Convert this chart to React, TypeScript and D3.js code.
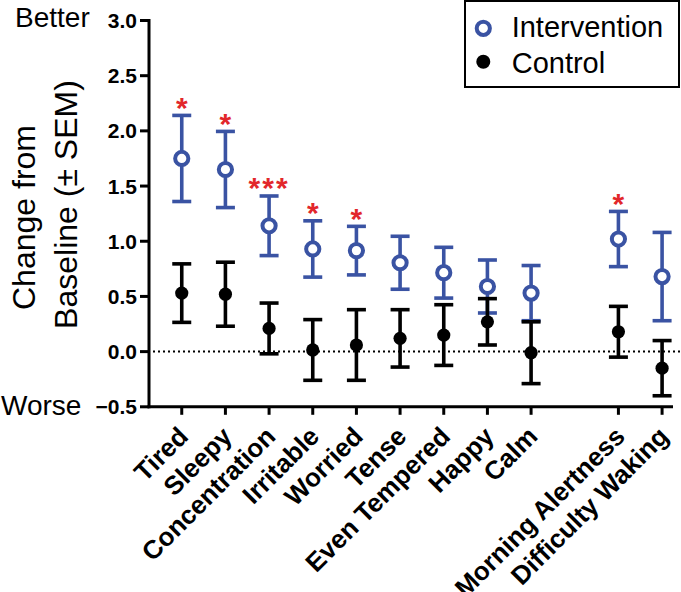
import React from "react";
import * as d3 from "d3";

const categories = [
  "Tired", "Sleepy", "Concentration", "Irritable", "Worried", "Tense",
  "Even Tempered", "Happy", "Calm", "Morning Alertness", "Difficulty Waking",
];
// position index on the x axis (a gap is left before the last two)
const positions = [0, 1, 2, 3, 4, 5, 6, 7, 8, 10, 11];

const interventionMean = [1.75, 1.65, 1.14, 0.93, 0.915, 0.805, 0.715, 0.59, 0.53, 1.02, 0.68];
const interventionSem = [0.39, 0.345, 0.27, 0.255, 0.22, 0.24, 0.23, 0.24, 0.25, 0.25, 0.40];
const controlMean = [0.53, 0.52, 0.21, 0.015, 0.06, 0.12, 0.15, 0.27, -0.01, 0.18, -0.15];
const controlSem = [0.265, 0.29, 0.23, 0.275, 0.32, 0.26, 0.275, 0.21, 0.28, 0.23, 0.25];
const significance = ["*", "*", "***", "*", "*", "", "", "", "", "*", ""];

const yTicks = [-0.5, 0.0, 0.5, 1.0, 1.5, 2.0, 2.5, 3.0];
const legendLabels = ["Intervention", "Control"];

const BLUE = "#3a53a3";
const RED = "#e2272b";
const FONT = "'Liberation Sans', Arial, Helvetica, sans-serif";

export default function App() {
  const W = 681;
  const H = 592;
  const x = d3.scaleLinear().domain([-0.75, 11.25]).range([149, 673]);
  const y = d3.scaleLinear().domain([-0.5, 3.0]).range([406.8, 20.5]);
  const capHalf = 9.5;

  const bar = (cx: number, m: number, s: number, color: string, key: string) => (
    <g key={key} stroke={color} strokeWidth={3.6} fill="none">
      <line x1={cx} x2={cx} y1={y(m - s)} y2={y(m + s)} />
      <line x1={cx - capHalf} x2={cx + capHalf} y1={y(m + s)} y2={y(m + s)} />
      <line x1={cx - capHalf} x2={cx + capHalf} y1={y(m - s)} y2={y(m - s)} />
    </g>
  );

  return (
    <svg width={W} height={H} style={{ position: "absolute", left: 0, top: 0, background: "#fff" }}
      fontFamily={FONT}>
      <rect x={0} y={0} width={W} height={H} fill="#fff" />
      {/* zero reference line */}
      <line x1={x(-0.75) + 4} x2={680} y1={y(0)} y2={y(0)} stroke="#000" strokeWidth={2}
        strokeDasharray="2,3" />

      {/* axes */}
      <line x1={x(-0.75)} x2={x(-0.75)} y1={y(3.0) - 1.5} y2={y(-0.5) + 1.5} stroke="#000" strokeWidth={3} />
      <line x1={x(-0.75) - 1.5} x2={x(11.25)} y1={y(-0.5)} y2={y(-0.5)} stroke="#000" strokeWidth={3} />
      {yTicks.map((t) => (
        <g key={"yt" + t}>
          <line x1={x(-0.75) - 9} x2={x(-0.75)} y1={y(t)} y2={y(t)} stroke="#000" strokeWidth={3} />
          <text x={137} y={y(t)} dy="0.36em" textAnchor="end" fontWeight="bold" fontSize={21}>
            {d3.format(".1f")(t)}
          </text>
        </g>
      ))}
      {positions.map((p, i) => (
        <g key={"xt" + i}>
          <line x1={x(p)} x2={x(p)} y1={y(-0.5)} y2={y(-0.5) + 8} stroke="#000" strokeWidth={3} />
          <text transform={`translate(${x(p) + 8},${438}) rotate(-45)`} textAnchor="end"
            fontWeight="bold" fontSize={26}>
            {categories[i]}
          </text>
        </g>
      ))}

      {/* axis annotations */}
      <text x={15} y={27} fontSize={28}>Better</text>
      <text x={1} y={415} fontSize={28}>Worse</text>
      <text transform={`translate(35,217.5) rotate(-90)`} textAnchor="middle" fontSize={32}>Change from</text>
      <text transform={`translate(77,204.5) rotate(-90)`} textAnchor="middle" fontSize={32}>Baseline (± SEM)</text>

      {/* intervention */}
      {positions.map((p, i) => bar(x(p), interventionMean[i], interventionSem[i], BLUE, "ib" + i))}
      {/* control */}
      {positions.map((p, i) => bar(x(p), controlMean[i], controlSem[i], "#000", "cb" + i))}
      {positions.map((p, i) => (
        <circle key={"ic" + i} cx={x(p)} cy={y(interventionMean[i])} r={6.6} fill="#fff"
          stroke={BLUE} strokeWidth={4} />
      ))}
      {positions.map((p, i) => (
        <circle key={"cc" + i} cx={x(p)} cy={y(controlMean[i])} r={6.6} fill="#000" />
      ))}
      {positions.map((p, i) =>
        significance[i] ? (
          <text key={"s" + i} x={x(p)} y={y(interventionMean[i] + interventionSem[i]) + 2.5}
            textAnchor="middle" fill={RED} fontSize={30} fontWeight="bold"
            letterSpacing={significance[i].length > 1 ? 2 : 0}>
            {significance[i]}
          </text>
        ) : null
      )}

      {/* legend */}
      <rect x={465} y={1} width={214} height={86} fill="#fff" stroke="#000" strokeWidth={2} />
      <circle cx={483.3} cy={28.3} r={6.6} fill="#fff" stroke={BLUE} strokeWidth={4} />
      <text x={511.7} y={37.3} fontSize={29}>{legendLabels[0]}</text>
      <circle cx={483.3} cy={61.7} r={7} fill="#000" />
      <text x={511.7} y={72.7} fontSize={29}>{legendLabels[1]}</text>
    </svg>
  );
}
